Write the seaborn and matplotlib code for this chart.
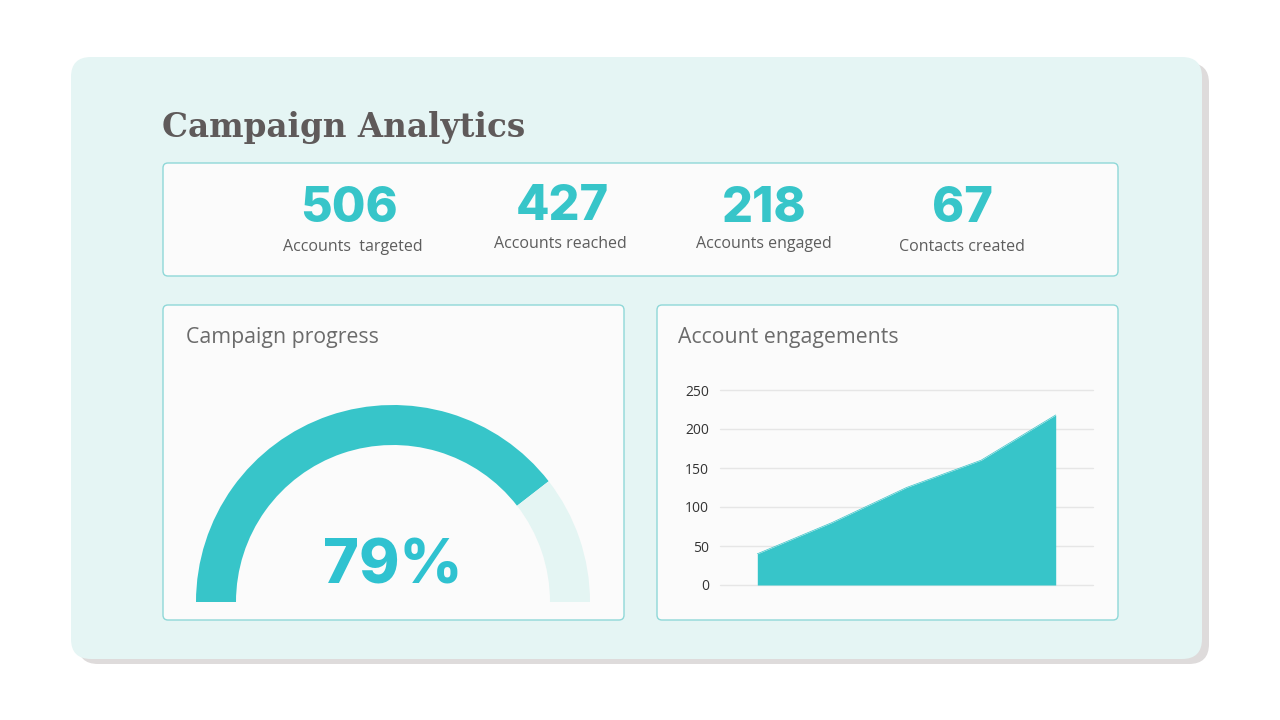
import numpy as np
import pandas as pd
import matplotlib
matplotlib.use("Agg")
import matplotlib.pyplot as plt
import seaborn as sns
from matplotlib.patches import FancyBboxPatch, Wedge

# KPI numbers
kpi_values = [506, 427, 218, 67]
kpi_labels = ["Accounts  targeted", "Accounts reached", "Accounts engaged", "Contacts created"]

# gauge
progress_pct = 79

# area chart
engage_steps = [1, 2, 3, 4, 5]
engage_values = [40, 80, 125, 160, 218]
y_ticks = [0, 50, 100, 150, 200, 250]

TEAL = "#37c5c9"
TEAL_TEXT = "#2fc2d0"
LIGHT = "#e4f5f3"
CARD = "#e5f5f4"
GREY_TEXT = "#5d5d5d"

sns.set_theme(style="white")
plt.rcParams["font.family"] = ["Open Sans", "DejaVu Sans"]

fig = plt.figure(figsize=(12.8, 7.2), dpi=100)
fig.patch.set_facecolor("white")

bg = fig.add_axes([0, 0, 1, 1])
bg.set_xlim(0, 1280)
bg.set_ylim(720, 0)
bg.axis("off")


def box(x0, y0, x1, y1, fc, ec="none", r=6, lw=1.0, z=1):
    p = FancyBboxPatch((x0, y0), x1 - x0, y1 - y0,
                       boxstyle=f"round,pad=0,rounding_size={r}",
                       fc=fc, ec=ec, lw=lw, zorder=z)
    bg.add_patch(p)


# main card + shadow
box(78, 63, 1209, 664, "#dedbdb", r=20, z=0)
box(71, 57, 1202, 659, CARD, r=20, z=1)

bg.text(162, 127, "Campaign Analytics", fontsize=23.5, fontweight="bold",
        family=["DejaVu Serif"], color="#5f5a5a", va="center", ha="left", zorder=3)

# KPI strip
box(163, 163, 1118, 276, "#fbfbfb", ec="#8fd8d8", r=5, z=2)
num_x = [349, 562, 764, 962]
num_y = [209, 207, 209, 209]
lab_x = [353, 560, 764, 962]
lab_y = [247, 244, 244, 247]
for v, lab, nx, ny, lx, ly in zip(kpi_values, kpi_labels, num_x, num_y, lab_x, lab_y):
    bg.text(nx, ny, str(v), fontsize=35, fontweight="heavy", family=["Inter", "DejaVu Sans"],
            color=TEAL, ha="center", va="center", zorder=3)
    bg.text(lx, ly, lab, fontsize=11.5, color=GREY_TEXT, ha="center", va="center", zorder=3)

# lower panels
box(163, 305, 624, 620, "#fbfbfb", ec="#8fd8d8", r=5, z=2)
box(657, 305, 1118, 620, "#fbfbfb", ec="#8fd8d8", r=5, z=2)
bg.text(186, 337, "Campaign progress", fontsize=15.3, color="#6b6b6b", va="center", ha="left", zorder=3)
bg.text(678, 337, "Account engagements", fontsize=15.3, color="#6b6b6b", va="center", ha="left", zorder=3)

# gauge (y axis is inverted, so angles are mirrored)
cx, cy, R, W = 393, 602, 197, 40
split = 180 * progress_pct / 100
bg.add_patch(Wedge((cx, cy), R, 180, 180 + split, width=W, fc=TEAL, ec="none", zorder=3))
bg.add_patch(Wedge((cx, cy), R, 180 + split, 360, width=W, fc=LIGHT, ec="none", zorder=3))
bg.text(cx, 567, f"{progress_pct}%", fontsize=44, fontweight="heavy", family=["Inter", "DejaVu Sans"],
        color=TEAL_TEXT, ha="center", va="center", zorder=4)

# area chart
ax = fig.add_axes([720 / 1280, (720 - 585) / 720, (1093 - 720) / 1280, (585 - 390) / 720])
ax.set_facecolor("none")
df = pd.DataFrame({"step": engage_steps, "engagements": engage_values})
sns.lineplot(data=df, x="step", y="engagements", ax=ax, color=TEAL, lw=0.5)
ax.fill_between(df["step"], 0, df["engagements"], color=TEAL, lw=0, zorder=2)
ax.set_xlim(0.5, 5.5)
ax.set_ylim(0, 250)
ax.set_yticks(y_ticks)
ax.set_xticks([])
ax.set_xlabel("")
ax.set_ylabel("")
ax.grid(axis="y", color="#e6e6e6", lw=1)
for gl in ax.get_ygridlines():
    gl.set_clip_on(False)
ax.set_axisbelow(True)
for s in ax.spines.values():
    s.set_visible(False)
ax.tick_params(axis="y", length=0, pad=8, labelsize=10, labelcolor="#333333")

fig.savefig("out.png", dpi=100, facecolor="white")
